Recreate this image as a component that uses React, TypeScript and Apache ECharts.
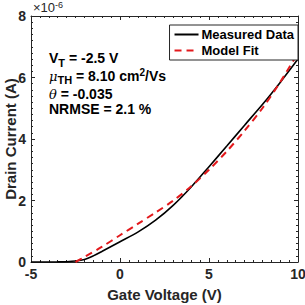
import React, { useEffect, useRef } from "react";
import * as echarts from "echarts";

const measuredX = [-5, -4, -3.5, -3, -2.5, -2, -1.5, -1, 0, 1, 2, 3, 4, 5, 6, 7, 8, 9, 10];
const measuredY = [0, 0, 0.003, 0.01, 0.03, 0.08, 0.2, 0.35, 0.66, 0.97, 1.36, 1.85, 2.44, 3.1, 3.77, 4.45, 5.12, 5.84, 6.6];
const fitX = [-2.5, -2, -1, 0, 1, 2, 3, 4, 5, 6, 7, 8, 9, 10];
const fitY = [0, 0.16, 0.5, 0.87, 1.24, 1.61, 2.0, 2.46, 3.0, 3.6, 4.27, 5.0, 5.85, 6.8];
const xTicks = [-5, 0, 5, 10];
const yTicks = [0, 2, 4, 6, 8];

const FONT = "'Liberation Sans', Arial, sans-serif";

export default function App() {
  const ref = useRef<HTMLDivElement>(null);
  useEffect(() => {
    if (!ref.current) return;
    const chart = echarts.init(ref.current, null, { renderer: "svg" });
    const axisCommon = {
      type: "value" as const,
      axisLine: { show: true, onZero: false, lineStyle: { color: "#262626", width: 1 } },
      axisTick: { show: true, inside: true, length: 4, lineStyle: { color: "#262626" } },
      minorTick: { show: true, splitNumber: 10, length: 2, lineStyle: { color: "#262626" } },
      splitLine: { show: false },
    };
    chart.setOption({
      animation: false,
      backgroundColor: "#fff",
      grid: { left: 31, right: 7, top: 16, bottom: 43, containLabel: false, outerBoundsMode: "none" },
      xAxis: [
        {
          ...axisCommon,
          min: xTicks[0],
          max: xTicks[xTicks.length - 1],
          interval: 5,
          axisLabel: { color: "#262626", fontFamily: FONT, fontWeight: "bold", fontSize: 14, margin: 5 },
          name: "Gate Voltage (V)",
          nameLocation: "middle",
          nameGap: 25,
          nameMoveOverlap: false,
          nameTextStyle: { color: "#262626", fontFamily: FONT, fontWeight: "bold", fontSize: 15 },
        },
        {
          ...axisCommon,
          position: "top",
          min: xTicks[0],
          max: xTicks[xTicks.length - 1],
          interval: 5,
          axisLabel: { show: false },
        },
      ],
      yAxis: [
        {
          ...axisCommon,
          min: yTicks[0],
          max: yTicks[yTicks.length - 1],
          interval: 2,
          axisLabel: { color: "#262626", fontFamily: FONT, fontWeight: "bold", fontSize: 14, margin: 5 },
          name: "Drain Current (A)",
          nameLocation: "middle",
          nameGap: 13,
          nameMoveOverlap: false,
          nameTextStyle: { color: "#262626", fontFamily: FONT, fontWeight: "bold", fontSize: 15 },
        },
        {
          ...axisCommon,
          position: "right",
          min: yTicks[0],
          max: yTicks[yTicks.length - 1],
          interval: 2,
          axisLabel: { show: false },
        },
      ],
      legend: {
        orient: "vertical",
        right: 7,
        top: 25,
        padding: [3, 4, 3, 4],
        itemGap: 3,
        itemWidth: 24,
        itemHeight: 14,
        borderColor: "#262626",
        borderWidth: 1,
        borderRadius: 0,
        backgroundColor: "#fff",
        itemStyle: { opacity: 0 },
        textStyle: { color: "#000", fontFamily: FONT, fontWeight: "bold", fontSize: 13, padding: [0, 0, 0, -2] },
        data: ["Measured Data", "Model Fit"],
      },
      graphic: [
        {
          type: "text",
          left: 33,
          top: 0,
          style: {
            text: "{a|×10}{b|-6}",
            rich: {
              a: { fontFamily: FONT, fontSize: 13, fill: "#262626", verticalAlign: "bottom" },
              b: { fontFamily: FONT, fontSize: 9, fill: "#262626", verticalAlign: "top", padding: [0, 0, 5, 0] },
            },
          },
        },
        {
          type: "text",
          left: 49,
          top: 51,
          style: {
            text: "{t|V}{s|T}{t| = -2.5 V}",
            rich: {
              t: { fontFamily: FONT, fontWeight: "bold", fontSize: 14, fill: "#000" },
              s: { fontFamily: FONT, fontWeight: "bold", fontSize: 11, fill: "#000", padding: [9, 0, 0, 0] },
            },
          },
        },
        {
          type: "text",
          left: 49,
          top: 67,
          style: {
            text: "{g|μ}{s|TH}{t| = 8.10 cm}{p|2}{t|/Vs}",
            rich: {
              g: { fontFamily: "'DejaVu Serif', serif", fontStyle: "italic", fontSize: 13, fill: "#000" },
              t: { fontFamily: FONT, fontWeight: "bold", fontSize: 14, fill: "#000" },
              s: { fontFamily: FONT, fontWeight: "bold", fontSize: 11, fill: "#000", padding: [7, 0, 0, 0] },
              p: { fontFamily: FONT, fontWeight: "bold", fontSize: 10, fill: "#000", padding: [0, 0, 8, 0] },
            },
          },
        },
        {
          type: "text",
          left: 49,
          top: 87,
          style: {
            text: "{g|θ}{t| = -0.035}",
            rich: {
              g: { fontFamily: "'DejaVu Serif', serif", fontStyle: "italic", fontSize: 13, fill: "#000" },
              t: { fontFamily: FONT, fontWeight: "bold", fontSize: 14, fill: "#000" },
            },
          },
        },
        {
          type: "text",
          left: 49,
          top: 102,
          style: {
            text: "NRMSE = 2.1 %",
            fontFamily: FONT,
            fontWeight: "bold",
            fontSize: 14,
            fill: "#000",
          },
        },
      ],
      series: [
        {
          name: "Measured Data",
          type: "line",
          smooth: 0.3,
          symbol: "none",
          data: measuredX.map((x, i) => [x, measuredY[i]]),
          lineStyle: { color: "#000", width: 1.6 },
          itemStyle: { color: "#000" },
          z: 2,
        },
        {
          name: "Model Fit",
          type: "line",
          smooth: 0.3,
          symbol: "none",
          data: fitX.map((x, i) => [x, fitY[i]]),
          lineStyle: { color: "#e3191c", width: 2, type: [7, 5] },
          itemStyle: { color: "#e3191c" },
          z: 3,
        },
      ],
    });
    return () => chart.dispose();
  }, []);
  return <div ref={ref} style={{ width: 305, height: 305, position: "absolute", left: 0, top: 0 }} />;
}
